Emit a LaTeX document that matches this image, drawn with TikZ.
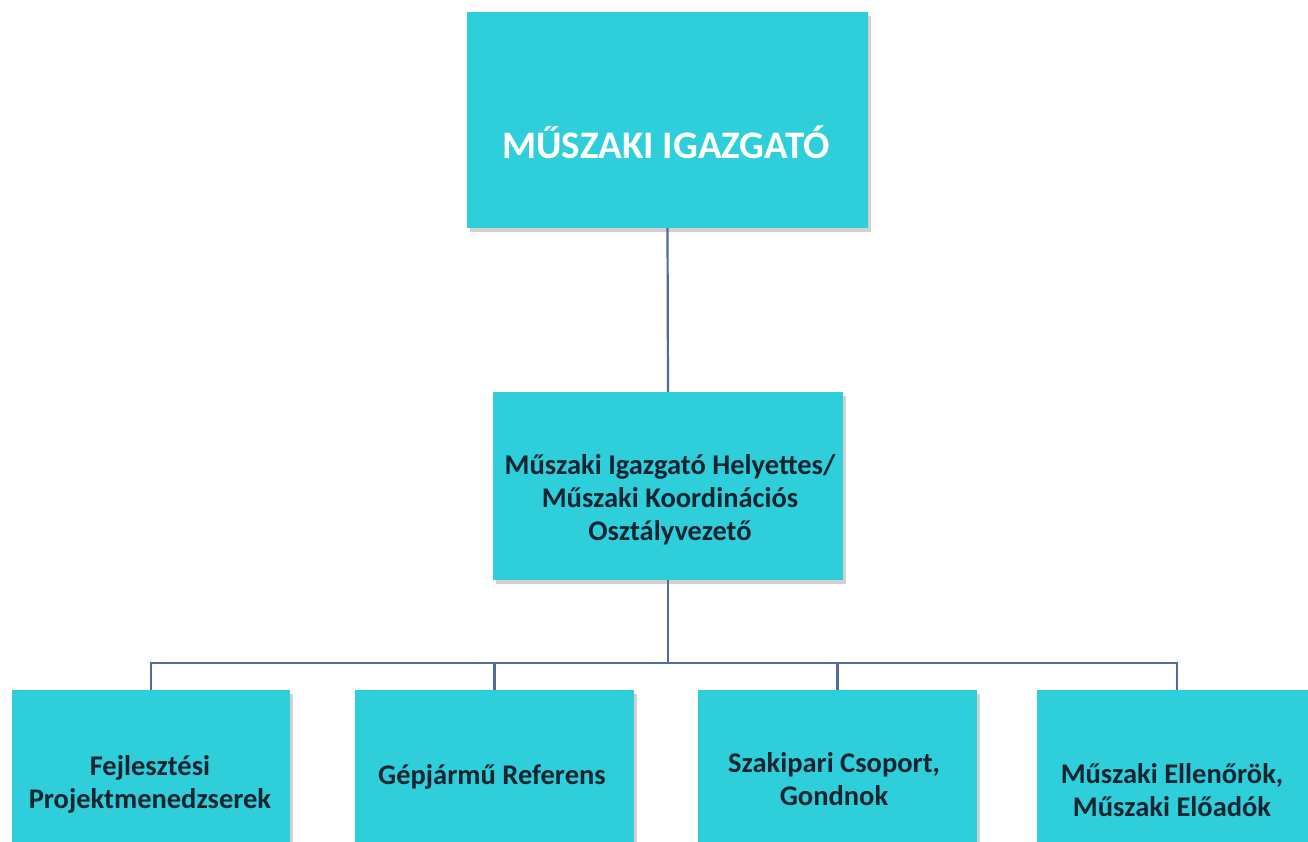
\documentclass[tikz,border=0pt]{standalone}
\usepackage{fontspec}
\setmainfont{Carlito}
\usetikzlibrary{shadows}
\definecolor{boxcyan}{HTML}{2ECFDA}
\definecolor{linecol}{HTML}{4F6C9C}
\definecolor{txtdark}{HTML}{142430}
\tikzset{
  orgbox/.style={draw=none, fill=boxcyan, rectangle, inner sep=0pt,
    drop shadow={shadow xshift=2.5pt, shadow yshift=-3.5pt, opacity=0.3, fill=black!60}},
  conn/.style={draw=linecol, line width=2.2pt},
  boxtext/.style={font=\bfseries\fontsize{28.5}{33}\selectfont, text=txtdark, align=center, inner sep=0pt},
}
\begin{document}
\begin{tikzpicture}[x=1pt,y=-1pt]
\useasboundingbox (0,0) rectangle (1308,841);
\clip (0,0) rectangle (1308,841);
% boxes
\node[orgbox, minimum width=401pt, minimum height=216pt] (top) at (667.5,120) {};
\node[orgbox, minimum width=350pt, minimum height=188pt] (mid) at (668,486) {};
\node[orgbox, minimum width=278pt, minimum height=182pt] (b1) at (151,781) {};
\node[orgbox, minimum width=279pt, minimum height=182pt] (b2) at (494.5,781) {};
\node[orgbox, minimum width=279pt, minimum height=182pt] (b3) at (837.5,781) {};
\node[orgbox, minimum width=280pt, minimum height=182pt] (b4) at (1177,781) {};
% connectors
\coordinate (bus) at (668,663);
\draw[conn] (top.south) -- (mid.north);
\draw[conn] (mid.south) -- (bus);
\draw[conn] (bus) -| (b1.north);
\draw[conn] (bus) -| (b2.north);
\draw[conn] (bus) -| (b3.north);
\draw[conn] (bus) -| (b4.north);
% texts
\node[font=\bfseries\fontsize{39}{46}\selectfont, text=white, inner sep=0pt] (toptext) at (666,142) {MŰSZAKI IGAZGATÓ};
\node[boxtext] (midtext) at (670,500) {Műszaki Igazgató Helyettes/\\Műszaki Koordinációs\\Osztályvezető};
\node[boxtext] (t1) at (150,784) {Fejlesztési\\Projektmenedzserek};
\node[boxtext] (t2) at (492,777) {Gépjármű Referens};
\node[boxtext] (t3) at (834,779) {Szakipari Csoport,\\Gondnok};
\node[boxtext] (t4) at (1172,790) {Műszaki Ellenőrök,\\Műszaki Előadók};
\end{tikzpicture}
\end{document}
